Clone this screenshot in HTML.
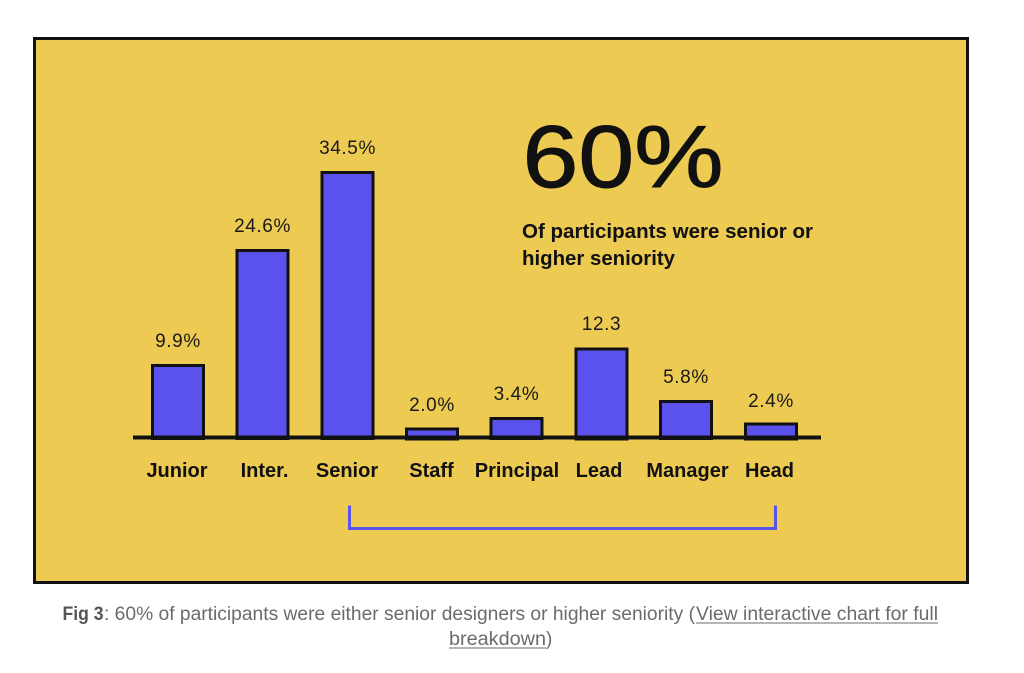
<!DOCTYPE html>
<html>
<head>
<meta charset="utf-8">
<style>
html,body{margin:0;padding:0;background:#fff;}
svg{display:block;}
text{font-family:"Liberation Sans",sans-serif;}
</style>
</head>
<body>
<svg width="1024" height="673" viewBox="0 0 1024 673" xmlns="http://www.w3.org/2000/svg">
  <rect x="0" y="0" width="1024" height="673" fill="#ffffff"/>
  <!-- frame -->
  <rect x="34.5" y="38.5" width="933" height="544" fill="#EDCA52" stroke="#111" stroke-width="3"/>

  <!-- bars -->
  <g fill="#5B52EE" stroke="#111" stroke-width="3">
    <rect x="152.5" y="365.5" width="51" height="73"/>
    <rect x="237" y="250.5" width="51" height="188"/>
    <rect x="322" y="172.5" width="51" height="266"/>
    <rect x="406.5" y="429" width="51" height="10"/>
    <rect x="491" y="418.5" width="51" height="20"/>
    <rect x="576" y="349" width="51" height="90"/>
    <rect x="660.5" y="401.5" width="51" height="37"/>
    <rect x="745.5" y="424" width="51" height="15"/>
  </g>
  <!-- axis -->
  <line x1="133" y1="437.5" x2="821" y2="437.5" stroke="#111" stroke-width="4"/>

  <!-- value labels -->
  <g font-size="19" fill="#1a1a1a" text-anchor="middle" letter-spacing="0.6">
    <text x="178" y="347">9.9%</text>
    <text x="262.5" y="232">24.6%</text>
    <text x="347.5" y="154">34.5%</text>
    <text x="432" y="411">2.0%</text>
    <text x="516.5" y="400">3.4%</text>
    <text x="601.5" y="330">12.3</text>
    <text x="686" y="383">5.8%</text>
    <text x="771" y="407">2.4%</text>
  </g>

  <!-- category labels -->
  <g font-size="20" font-weight="bold" fill="#111" text-anchor="middle">
    <text x="177" y="477">Junior</text>
    <text x="264.5" y="477">Inter.</text>
    <text x="347" y="477">Senior</text>
    <text x="431.5" y="477">Staff</text>
    <text x="517" y="477">Principal</text>
    <text x="599" y="477">Lead</text>
    <text x="687.5" y="477">Manager</text>
    <text x="769.5" y="477">Head</text>
  </g>

  <!-- bracket -->
  <path d="M349.5,505.5 V528.5 H775.5 V505.5" fill="none" stroke="#5B52EE" stroke-width="3"/>

  <!-- big stat -->
  <text x="522.5" y="187" font-size="88" fill="#111" stroke="#111" stroke-width="1" textLength="201" lengthAdjust="spacingAndGlyphs">60%</text>
  <text x="522" y="238" font-size="20" font-weight="bold" fill="#111" textLength="291" lengthAdjust="spacingAndGlyphs">Of participants were senior or</text>
  <text x="522" y="265" font-size="20" font-weight="bold" fill="#111" textLength="153" lengthAdjust="spacingAndGlyphs">higher seniority</text>

  <!-- caption -->
  <g font-size="19" fill="#6b6b6b">
    <text x="62.5" y="620" font-weight="bold" fill="#555" textLength="41" lengthAdjust="spacingAndGlyphs">Fig 3</text>
    <text x="104" y="620" textLength="591" lengthAdjust="spacingAndGlyphs">: 60% of participants were either senior designers or higher seniority (</text>
    <text x="696" y="620" textLength="242" lengthAdjust="spacingAndGlyphs">View interactive chart for full</text>
    <text x="449" y="645" textLength="97" lengthAdjust="spacingAndGlyphs">breakdown</text>
    <text x="546" y="645">)</text>
  </g>
  <line x1="696" y1="623" x2="938" y2="623" stroke="#6b6b6b" stroke-width="1"/>
  <line x1="449" y1="648" x2="546" y2="648" stroke="#6b6b6b" stroke-width="1"/>
</svg>
</body>
</html>
